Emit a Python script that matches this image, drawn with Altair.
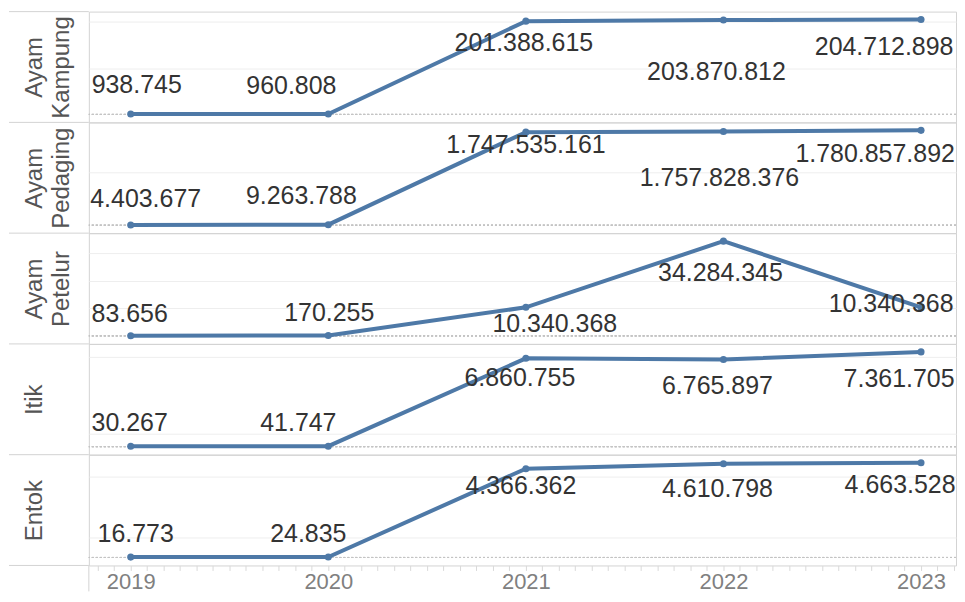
import altair as alt
import pandas as pd

years = [2019, 2020, 2021, 2022, 2023]
categories = ["Ayam Kampung", "Ayam Pedaging", "Ayam Petelur", "Itik", "Entok"]
header_lines = [["Ayam", "Kampung"], ["Ayam", "Pedaging"], ["Ayam", "Petelur"], ["Itik"], ["Entok"]]

ayam_kampung = [938745, 960808, 201388615, 203870812, 204712898]
ayam_pedaging = [4403677, 9263788, 1747535161, 1757828376, 1780857892]
ayam_petelur = [83656, 170255, 10340368, 34284345, 10340368]
itik = [30267, 41747, 6860755, 6765897, 7361705]
entok = [16773, 24835, 4366362, 4610798, 4663528]
series = [ayam_kampung, ayam_pedaging, ayam_petelur, itik, entok]

# gridline values per row
grid_values = [
    [100000000, 200000000],
    [1000000000],
    [10000000, 20000000, 30000000],
    [1000000, 2000000, 3000000, 4000000, 5000000, 6000000, 7000000],
    [1000000, 2000000, 3000000, 4000000],
]

# label offsets (pixels) relative to each point
label_dx = [
    [6, -37, -2, -7, -37],
    [15, -27, 0, -4, -46],
    [-1, 1, 29, -3, -30],
    [-1, -30, -6, -6, -22],
    [5, -20, -5, -6, -21],
]
label_dy = [
    [-29, -28, 22, 52, 27],
    [-26, -29, 13, 47, 24],
    [-22, -22, 17, 32, -3],
    [-23, -23, 20, 27, 27],
    [-23, -23, 17, 25, 22],
]

# x-axis ticks: monthly tick marks, labels on whole years
X_DOMAIN = [2018.788, 2023.177]
tick_values = [2018 + 11 / 12 + m / 12 for m in range(-1, 52)]
tick_values = [t for t in tick_values if X_DOMAIN[0] + 0.01 <= t <= X_DOMAIN[1] - 0.01]

ROW_H = 111
WIDTH = 869
HEADER_W = 80
LINE_COLOR = "#4e79a7"
GRID = "#d3d3d3"
FONT = "Liberation Sans"


def fmt(v):
    return f"{v:,}".replace(",", ".")


def row_chart(i, last):
    df = pd.DataFrame({
        "Tahun": years,
        "Nilai": series[i],
        "Label": [fmt(v) for v in series[i]],
    })
    xaxis = None
    if last:
        xaxis = alt.Axis(
            values=tick_values,
            labelExpr="abs(datum.value - round(datum.value)) < 0.001 ? format(datum.value, 'd') : ''",
            labelOverlap=False, labelFlush=False,
            labelFontSize=22, labelColor="#808080", labelFont=FONT,
            labelPadding=1, tickSize=5, tickColor="#d9d9d9",
            domain=False, grid=False, title=None,
        )
    x = alt.X("Tahun:Q", scale=alt.Scale(domain=X_DOMAIN, nice=False, zero=False), axis=xaxis)
    y = alt.Y(
        "Nilai:Q",
        scale=alt.Scale(zero=True, nice=False, padding=8),
        axis=alt.Axis(
            values=grid_values[i], labels=False, ticks=False, domain=False,
            grid=True, gridColor="#eeeeee", gridWidth=1,
            title=header_lines[i], titleAngle=-90, titleBaseline="top",
            titleAlign="center", titleX=-66, titleY=ROW_H / 2,
            titleFontSize=24, titleColor="#555555", titleFont=FONT,
            titleFontWeight="normal", titleLineHeight=27,
        ),
    )
    base = alt.Chart(df)
    zero = base.mark_rule(color="#c4c4c4", strokeDash=[2, 2], strokeWidth=1).encode(y=alt.datum(0))
    line = base.mark_line(color=LINE_COLOR, strokeWidth=4).encode(x=x, y=y)
    pts = base.mark_circle(color=LINE_COLOR, size=50, opacity=1).encode(x=x, y=y)
    texts = [
        base.transform_filter(alt.datum.Tahun == yr).mark_text(
            fontSize=25, color="#333333", font=FONT, baseline="middle", align="center",
            dx=label_dx[i][j], dy=label_dy[i][j],
        ).encode(x=x, y=y, text="Label:N")
        for j, yr in enumerate(years)
    ]
    one = alt.Chart(pd.DataFrame({"a": [0]}))
    top_ext = one.mark_rule(color=GRID, strokeWidth=1).encode(
        x=alt.value(-HEADER_W), x2=alt.value(0), y=alt.value(0))
    layers = [zero, line, pts] + texts + [top_ext]
    if last:
        bot_ext = one.mark_rule(color=GRID, strokeWidth=1).encode(
            x=alt.value(-HEADER_W), x2=alt.value(0), y=alt.value(ROW_H))
        vert_ext = one.mark_rule(color=GRID, strokeWidth=1).encode(
            x=alt.value(0), y=alt.value(ROW_H), y2=alt.value(ROW_H + 26))
        layers += [bot_ext, vert_ext]
    return alt.layer(*layers).properties(width=WIDTH, height=ROW_H)


rows = [row_chart(i, i == len(categories) - 1) for i in range(len(categories))]

chart = (
    alt.vconcat(*rows, spacing=0, bounds="flush")
    .resolve_scale(x="independent", y="independent")
    .properties(padding={"left": 0, "top": 2, "right": 0, "bottom": 0}, background="white")
    .configure_view(stroke=GRID, strokeWidth=1)
)

chart.save("out.html", embed_options={"renderer": "svg", "actions": False})
